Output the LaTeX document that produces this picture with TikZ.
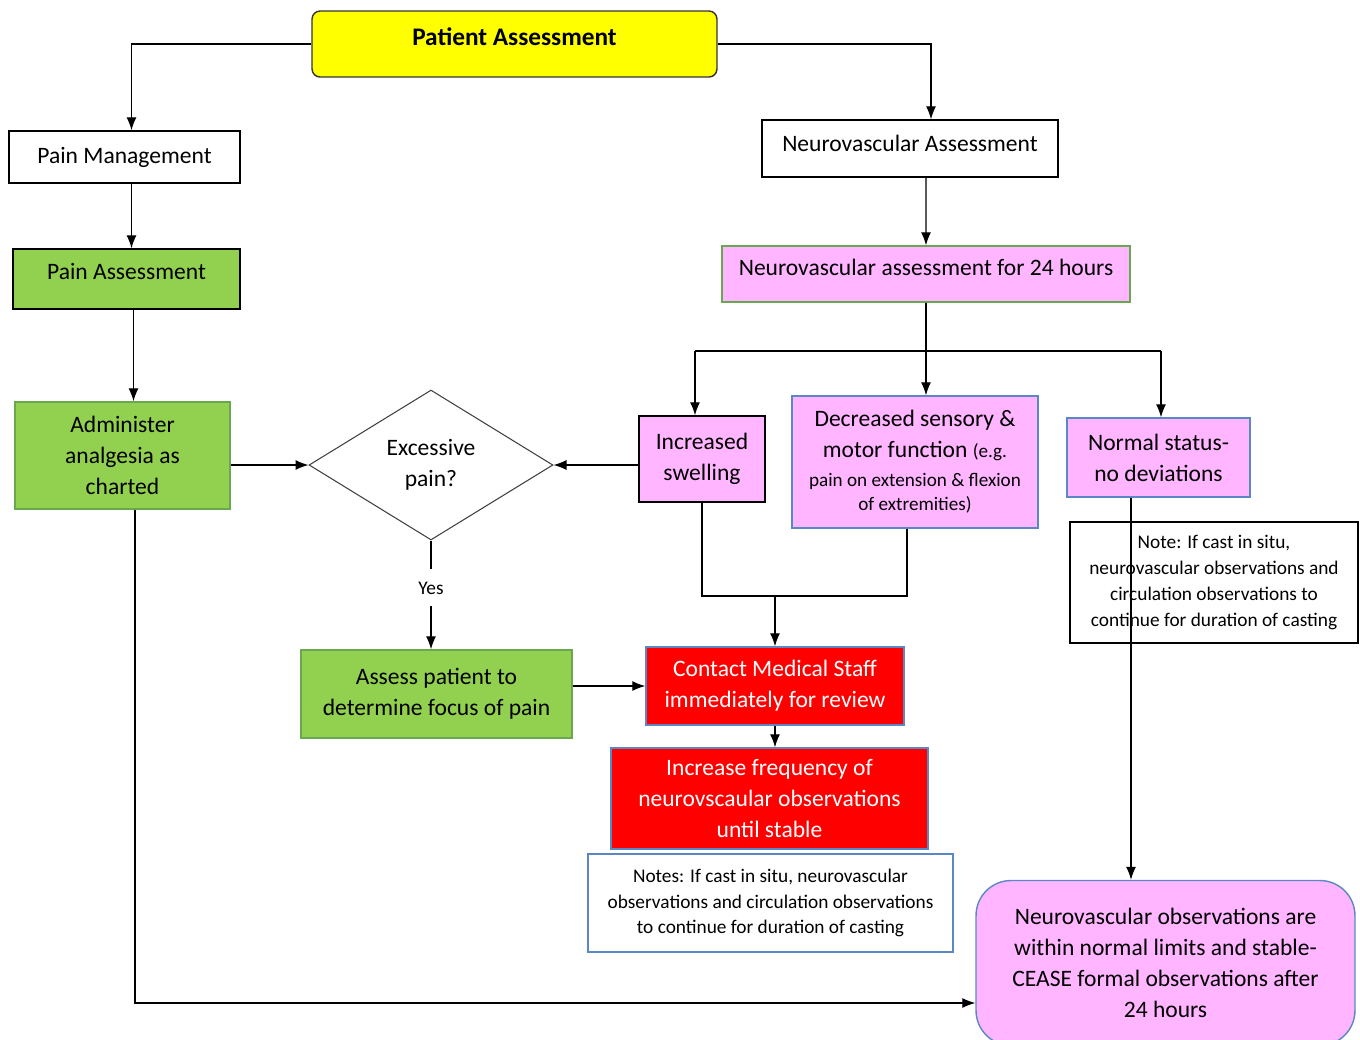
\documentclass[tikz,border=0pt]{standalone}
\usepackage{fontspec}
\setmainfont{Carlito}
\usetikzlibrary{shapes.geometric}
\usetikzlibrary{arrows.meta}
\definecolor{padyellow}{HTML}{FFFF00}
\definecolor{padgreen}{HTML}{92D050}
\definecolor{padgreenline}{HTML}{6AA84F}
\definecolor{padpink}{HTML}{FFB5FF}
\definecolor{padred}{HTML}{FF0000}
\definecolor{padblue}{HTML}{5B87C5}
\newcommand{\bigtxt}{\fontsize{13.4}{17.6}\selectfont}
\newcommand{\headtxt}{\fontsize{14.4}{17.6}\selectfont\bfseries}
\newcommand{\smalltxt}{\fontsize{10.9}{13.6}\selectfont}
\newcommand{\notetxt}{\fontsize{11}{14.7}\selectfont}

\begin{document}
\begin{tikzpicture}[x=0.02cm,y=-0.02cm,
  box/.style={rectangle,draw,line width=0.8pt,align=center,inner sep=0pt,font=\bigtxt},
  line/.style={line width=0.7pt},
  arr/.style={line width=0.7pt,-{Latex[length=2.6mm,width=2mm]}}]
\useasboundingbox (0,0) rectangle (1360,1039);
%left side
\path (514.5,44) node(pa)[box,draw=black!80,fill=padyellow,rounded corners=0.16cm,minimum width=8.1cm,text height=0.68cm,text depth=0.64cm,font=\headtxt]{Patient Assessment}
(124.5,157) node(pm)[box,minimum width=4.62cm,minimum height=1.04cm]{Pain Management}
(126.5,279) node(pas)[box,fill=padgreen,minimum width=4.54cm,text height=0.6cm,text depth=0.6cm]{Pain Assessment}
(122.5,455.5) node(adm)[box,draw=padgreenline,fill=padgreen,minimum width=4.3cm,minimum height=2.14cm]{Administer\\ analgesia as\\ charted}
(431,465) node(ex)[diamond,aspect=1.63,draw=black!75,line width=0.6pt,minimum width=4.88cm,minimum height=3cm,inner sep=0pt,align=center,font=\bigtxt]{Excessive\\ pain?}
(436.5,694) node(asp)[box,draw=padgreenline,fill=padgreen,minimum width=5.42cm,minimum height=1.76cm]{Assess patient to\\ determine focus of pain}
%right side
(910,148.5) node(nva)[box,minimum width=5.92cm,text height=0.62cm,text depth=0.52cm]{Neurovascular Assessment}
(926,274) node(nv24)[box,draw=padgreenline,fill=padpink,minimum width=8.16cm,text height=0.58cm,text depth=0.54cm]{Neurovascular assessment for 24 hours}
(702,459) node(sw)[box,fill=padpink,minimum width=2.52cm,minimum height=1.72cm]{Increased\\ swelling}
(915,462) node(dec)[box,draw=padblue,fill=padpink,minimum width=4.92cm,minimum height=2.64cm]{Decreased sensory \&\\ motor function {\smalltxt (e.g.}\\[-1pt] {\smalltxt pain on extension \& flexion}\\[-4pt] {\smalltxt of extremities)}}
(1158.5,457.5) node(nor)[box,draw=padblue,fill=padpink,minimum width=3.66cm,minimum height=1.58cm]{Normal status-\\ no deviations}
(1214,582.5) node(note1)[box,minimum width=5.76cm,minimum height=2.42cm,font=\notetxt]{Note: If cast in situ,\\ neurovascular observations and\\ circulation observations to\\ continue for duration of casting}
(775,686) node(cms)[box,draw=padblue,fill=padred,text=white,minimum width=5.16cm,minimum height=1.56cm]{Contact Medical Staff\\ immediately for review}
(769.5,798.5) node(inc)[box,draw=padblue,fill=padred,text=white,minimum width=6.34cm,minimum height=2.02cm]{Increase frequency of\\ neurovscaular observations\\ until stable}
(770.5,903) node(note2)[box,draw=padblue,minimum width=7.3cm,minimum height=1.96cm,font=\notetxt]{Notes: If cast in situ, neurovascular\\ observations and circulation observations\\ to continue for duration of casting}
(1165.5,963) node(fin)[box,draw=padblue,fill=padpink,rounded corners=0.7cm,minimum width=7.58cm,minimum height=3.3cm]{Neurovascular observations are\\ within normal limits and stable-\\ CEASE formal observations after\\ 24 hours};
%connectors
\draw[arr](pa.west)-|([xshift=0.14cm]pm.north);
\draw[arr](pa.east)-|([xshift=0.42cm]nva.north);
\draw[arr]([xshift=0.14cm]pm.south)--([xshift=0.14cm]pm.south|-pas.north);
\draw[arr]([xshift=0.14cm]pas.south)--([xshift=0.14cm]pas.south|-adm.north);
\draw[arr](adm.east|-ex)--(ex.west);
\draw[arr](sw.west|-ex)--(ex.east);
\draw[arr](ex.south)--node[fill=white,inner xsep=2pt,inner ysep=7pt,yshift=0.14cm,font=\notetxt]{Yes}(ex.south|-asp.north);
\draw[arr](asp.east|-cms)--(cms.west);
\draw[arr]([xshift=0.32cm]nva.south)--(nv24.north);
\draw[arr](nv24.south)--(nv24.south|-dec.north);
\coordinate (bl) at (695,351);
\coordinate (br) at (1161,351);
\draw[line](bl)--(br);
\draw[arr](bl)--(bl|-sw.north);
\draw[arr](br)--(br|-nor.north);
\coordinate (jn) at (776,596);
\draw[line](sw.south)|-(jn)-|([xshift=-0.16cm]dec.south);
\draw[arr](cms.north|-jn)--(cms.north);
\draw[arr](cms.south)--(cms.south|-inc.north);
\draw[arr]([xshift=-0.55cm]nor.south)--([xshift=-0.55cm]nor.south|-fin.north);
\draw[arr]([xshift=0.25cm]adm.south)|-([yshift=-0.8cm]fin.west);

\end{tikzpicture}
\end{document}
